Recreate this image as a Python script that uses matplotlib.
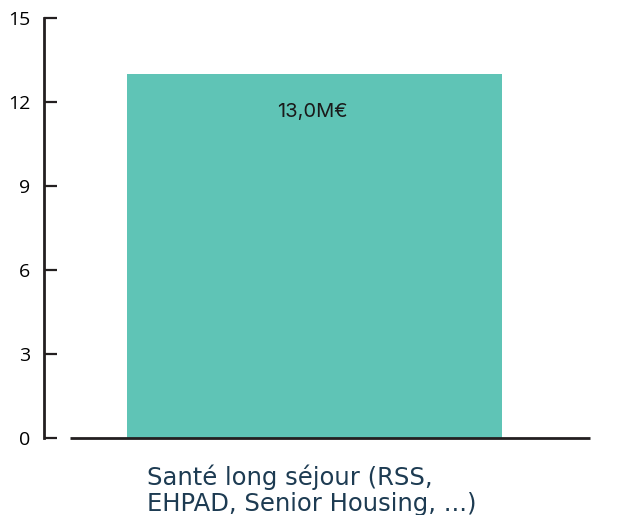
import matplotlib
matplotlib.use('Agg')
import matplotlib.pyplot as plt

# Data
categories = ['Santé long séjour (RSS,\nEHPAD, Senior Housing, ...)']
values = [13.0]
value_labels = ['13,0M€']
y_ticks = [0, 3, 6, 9, 12, 15]

bar_color = '#5fc4b6'
axis_color = '#231f20'
label_color = '#1d3b52'

fig = plt.figure(figsize=(6.32, 5.15), dpi=100)
ax = fig.add_axes([44 / 632, 1 - 438 / 515, 546 / 632, 420 / 515])

x = list(range(len(categories)))
ax.bar(x, values, width=0.8, color=bar_color, zorder=2)
ax.set_xlim(-0.577, 0.5876)
ax.set_ylim(0, 15)

for xi, v, lab in zip(x, values, value_labels):
    ax.text(xi - 0.005, v - 1.35, lab, ha='center', va='center',
            fontsize=14.5, family='Inter', color='#1a1a1a')
    ax.text(xi - 0.357, -0.95, categories[xi], ha='left', va='top',
            fontsize=17.5, family='DejaVu Sans', color=label_color,
            linespacing=1.08, transform=ax.transData, clip_on=False)

# spines
for s in ['top', 'right', 'bottom']:
    ax.spines[s].set_visible(False)
ax.spines['left'].set_color(axis_color)
ax.spines['left'].set_linewidth(2)
ax.plot([26 / 546, 1], [0, 0], transform=ax.transAxes, color=axis_color,
        lw=2, clip_on=False, zorder=3, solid_capstyle='butt')

ax.set_yticks(y_ticks)
ax.set_yticklabels([str(t) for t in y_ticks], fontsize=14, family='Open Sans')
ax.tick_params(axis='y', direction='in', length=9, width=1.6, color=axis_color, pad=10)
ax.set_xticks([])

fig.savefig('out.png', dpi=100)
